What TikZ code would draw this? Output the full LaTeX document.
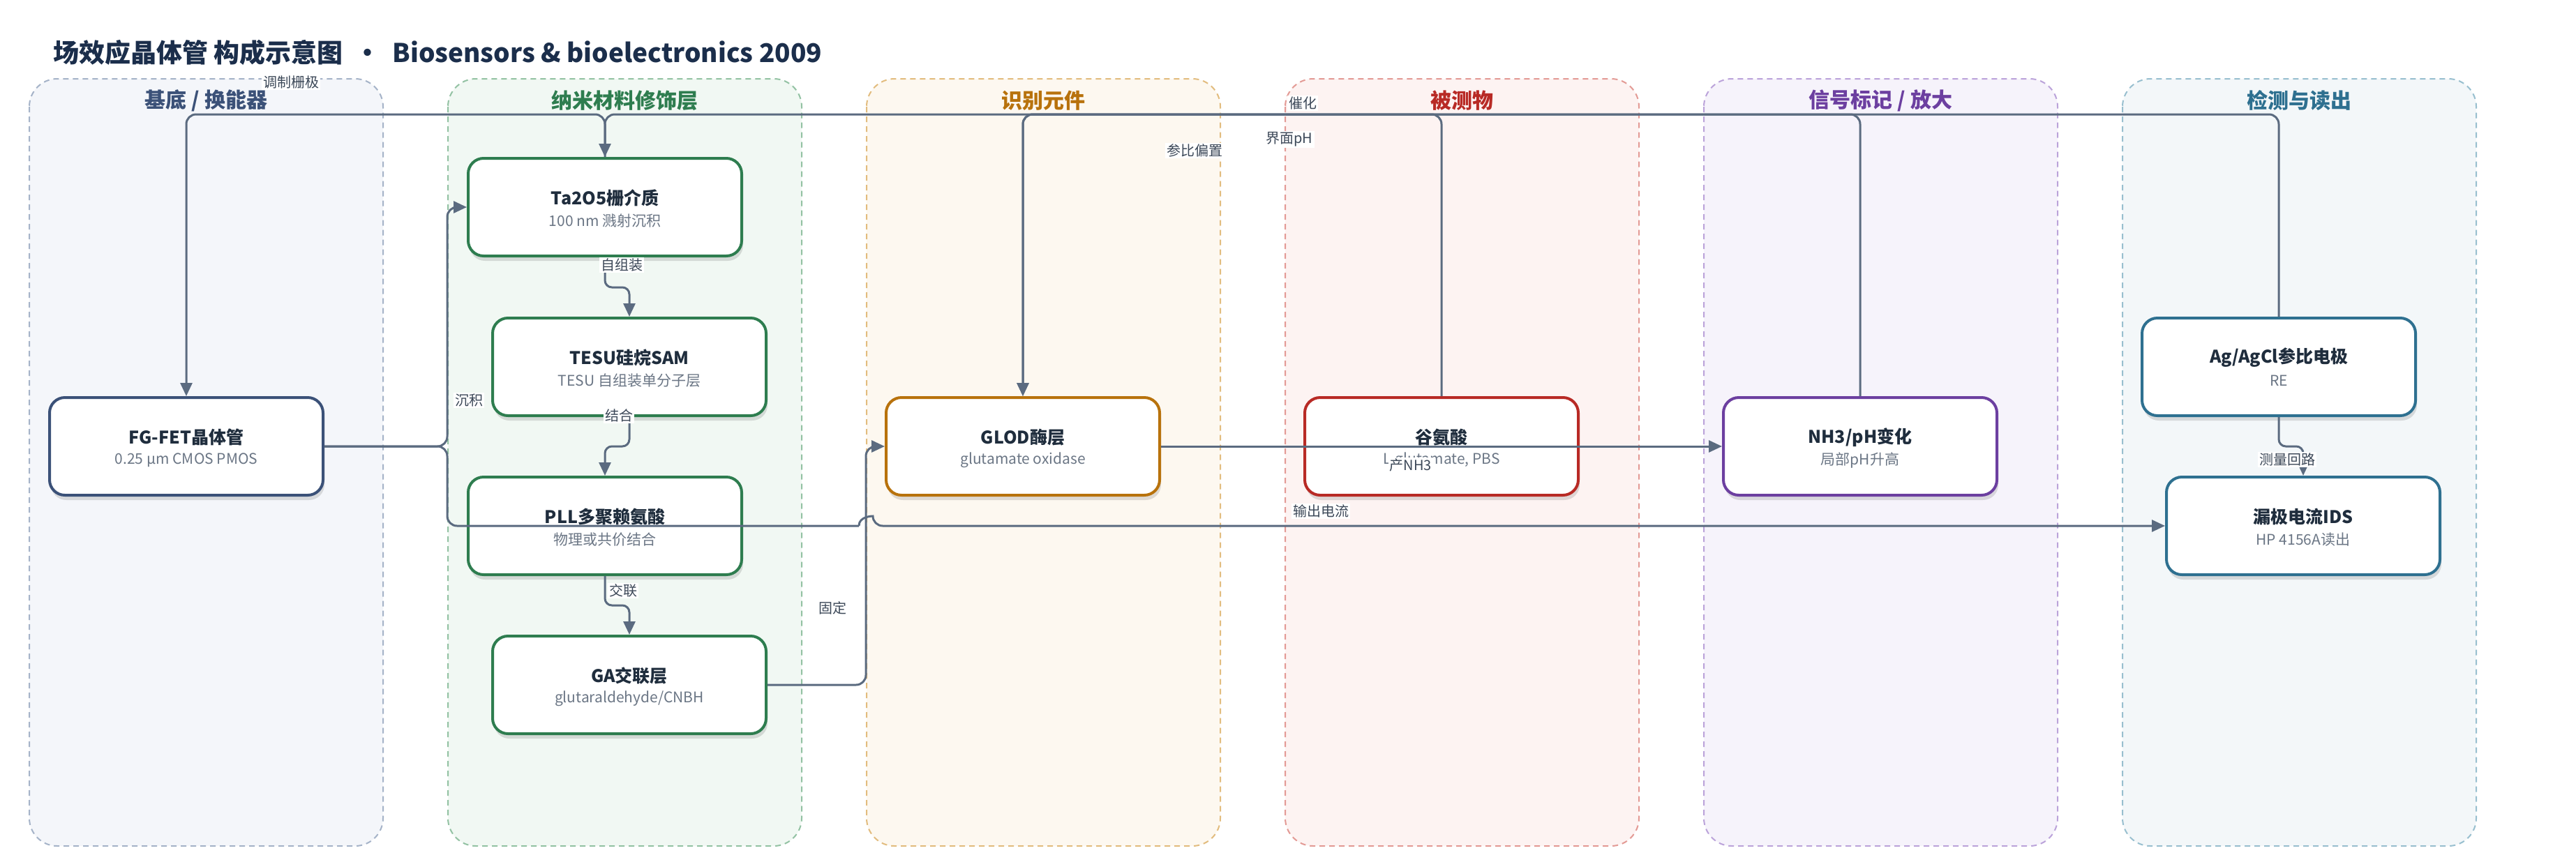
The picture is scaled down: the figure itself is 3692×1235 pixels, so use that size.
\documentclass[tikz,border=0pt]{standalone}
\usepackage{fontspec}
\setmainfont{Noto Sans CJK SC}
\usetikzlibrary{shadows,arrows.meta}
\definecolor{edgec}{HTML}{5B6B80}
\definecolor{lblc}{HTML}{3C4858}
\definecolor{ttlc}{HTML}{1F2D3D}
\definecolor{subc}{HTML}{6B7685}
\definecolor{mainc}{HTML}{1B2E4B}
\definecolor{laAf}{HTML}{F4F6FA}\definecolor{laAd}{HTML}{A5B3C8}\definecolor{laAt}{HTML}{3B5178}
\definecolor{laBf}{HTML}{F1F8F3}\definecolor{laBd}{HTML}{93C2A3}\definecolor{laBt}{HTML}{2E7D4F}
\definecolor{laCf}{HTML}{FDF8F0}\definecolor{laCd}{HTML}{E2BC7E}\definecolor{laCt}{HTML}{B8720C}
\definecolor{laDf}{HTML}{FDF3F2}\definecolor{laDd}{HTML}{E39A95}\definecolor{laDt}{HTML}{B82A25}
\definecolor{laEf}{HTML}{F6F3FB}\definecolor{laEd}{HTML}{BBA3DA}\definecolor{laEt}{HTML}{6C3FA0}
\definecolor{laFf}{HTML}{F3F7F9}\definecolor{laFd}{HTML}{98BFCF}\definecolor{laFt}{HTML}{2E7090}
\tikzset{
  lane/.style={line width=2pt, dash pattern=on 8pt off 6pt, rounded corners=40pt},
  lanetitle/.style={font=\fontsize{30}{36}\selectfont\bfseries, inner sep=0pt},
  box/.style={line width=4pt, fill=white, rounded corners=22pt, minimum width=392pt, minimum height=140pt,
    drop shadow={shadow xshift=2pt, shadow yshift=-7pt, fill=black, opacity=0.12}},
  ttl/.style={font=\fontsize{25}{30}\selectfont\bfseries, text=ttlc, inner sep=0pt},
  sub/.style={font=\fontsize{21}{26}\selectfont, text=subc, inner sep=0pt},
  edge/.style={draw=edgec, line width=3pt, rounded corners=14pt, -{Triangle[length=19pt,width=17pt]}},
  jog/.style={edge, rounded corners=10pt},
  lbl/.style={fill=white, inner sep=2pt, text=lblc, font=\fontsize{20}{24}\selectfont},
}
\newcommand{\fetbox}[6]{%
  \node[box, draw=#4] (#1) at (#2,#3) {};
  \node[ttl] (#1-t) at ([yshift=13pt]#1.center) {#5};
  \node[sub] (#1-s) at ([yshift=-20pt]#1.center) {#6};
}
\begin{document}
\begin{tikzpicture}[x=1pt,y=-1pt]
\useasboundingbox (0,0) rectangle (3692,1235);
\fill[white] (0,0) rectangle (3692,1235);

% title
\node[anchor=west, inner sep=0pt, text=mainc, font=\fontsize{37}{44}\selectfont\bfseries] (title) at (76,75)
  {场效应晶体管 构成示意图 \ · \ Biosensors \& bioelectronics 2009};

% lanes
\draw[lane, draw=laAd, fill=laAf] (42,113) rectangle (549,1213);
\draw[lane, draw=laBd, fill=laBf] (642,113) rectangle (1149,1213);
\draw[lane, draw=laCd, fill=laCf] (1242,113) rectangle (1749,1213);
\draw[lane, draw=laDd, fill=laDf] (1842,113) rectangle (2349,1213);
\draw[lane, draw=laEd, fill=laEf] (2442,113) rectangle (2949,1213);
\draw[lane, draw=laFd, fill=laFf] (3042,113) rectangle (3549,1213);
\node[lanetitle, text=laAt] (h1) at (295.5,144) {基底 / 换能器};
\node[lanetitle, text=laBt] (h2) at (895.5,144) {纳米材料修饰层};
\node[lanetitle, text=laCt] (h3) at (1495.5,144) {识别元件};
\node[lanetitle, text=laDt] (h4) at (2095.5,144) {被测物};
\node[lanetitle, text=laEt] (h5) at (2695.5,144) {信号标记 / 放大};
\node[lanetitle, text=laFt] (h6) at (3295.5,144) {检测与读出};

% nodes
\fetbox{fg}{267}{640}{laAt}{FG-FET晶体管}{0.25 µm CMOS PMOS}
\fetbox{ta}{867}{297}{laBt}{Ta2O5栅介质}{100 nm 溅射沉积}
\fetbox{tesu}{902}{526}{laBt}{TESU硅烷SAM}{TESU 自组装单分子层}
\fetbox{pll}{867}{754}{laBt}{PLL多聚赖氨酸}{物理或共价结合}
\fetbox{ga}{902}{982}{laBt}{GA交联层}{glutaraldehyde/CNBH}
\fetbox{glod}{1466}{640}{laCt}{GLOD酶层}{glutamate oxidase}
\fetbox{glu}{2066}{640}{laDt}{谷氨酸}{L-glutamate, PBS}
\fetbox{nh3}{2666}{640}{laEt}{NH3/pH变化}{局部pH升高}
\fetbox{ag}{3266}{526}{laFt}{Ag/AgCl参比电极}{RE}
\fetbox{ids}{3301}{754}{laFt}{漏极电流IDS}{HP 4156A读出}

% helper coordinates
\coordinate (bus) at (0,164);
\coordinate (split) at (641,0);
\coordinate (fixx) at (1241,0);
\coordinate (hopA) at (1231,754);
\coordinate (hopB) at (1251,754);

% edges
\draw[edge] (ta.north) -- (ta.north |- bus) -- (fg.north |- bus) -- (fg.north);
\draw[edge] (nh3.north) -- (nh3.north |- bus) -- (ta.north |- bus) -- (ta.north);
\draw[edge] (glu.north) -- (glu.north |- bus) -- (glod.north |- bus) -- (glod.north);
\draw[edge] (ag.north) -- (ag.north |- bus) -- (glod.north |- bus) -- (glod.north);
\draw[edge] (fg.east) -- (split |- fg.east) -- (split |- ta.west) -- (ta.west);
\draw[edge] (fg.east) -- (split |- fg.east) -- (split |- ids.west) -- (hopA)
   (hopA) .. controls (1231,740) and (1251,740) .. (hopB) -- (ids.west);
\draw[jog] (ta.south) -- (ta.south |- 0,412) -- (tesu.north |- 0,412) -- (tesu.north);
\draw[jog] (tesu.south) -- (tesu.south |- 0,640) -- (pll.north |- 0,640) -- (pll.north);
\draw[jog] (pll.south) -- (pll.south |- 0,868) -- (ga.north |- 0,868) -- (ga.north);
\draw[edge] (ga.east) -- (fixx |- ga.east) -- (fixx |- glod.west) -- (glod.west);
\draw[edge] (glod.east) -- (nh3.west);
\draw[jog] (ag.south) -- (ag.south |- 0,640) -- (ids.north |- 0,640) -- (ids.north);

% edge labels
\node[lbl] (l-gate) at (417,118) {调制栅极};
\node[lbl] (l-bias) at (1712,216) {参比偏置};
\node[lbl] (l-cat) at (1867,148) {催化};
\node[lbl] (l-ph) at (1848,200) {界面pH};
\node[lbl] (l-dep) at (672,574) {沉积};
\node[lbl] (l-sam) at (891,380) {自组装};
\node[lbl] (l-bind) at (887,596) {结合};
\node[lbl] (l-cross) at (893,847) {交联};
\node[lbl] (l-fix) at (1193,872) {固定};
\node[lbl] (l-out) at (1893,733) {输出电流};
\node[lbl] (l-nh3) at (2022,667) {产NH3};
\node[lbl] (l-loop) at (3278,659) {测量回路};
\end{tikzpicture}
\end{document}
